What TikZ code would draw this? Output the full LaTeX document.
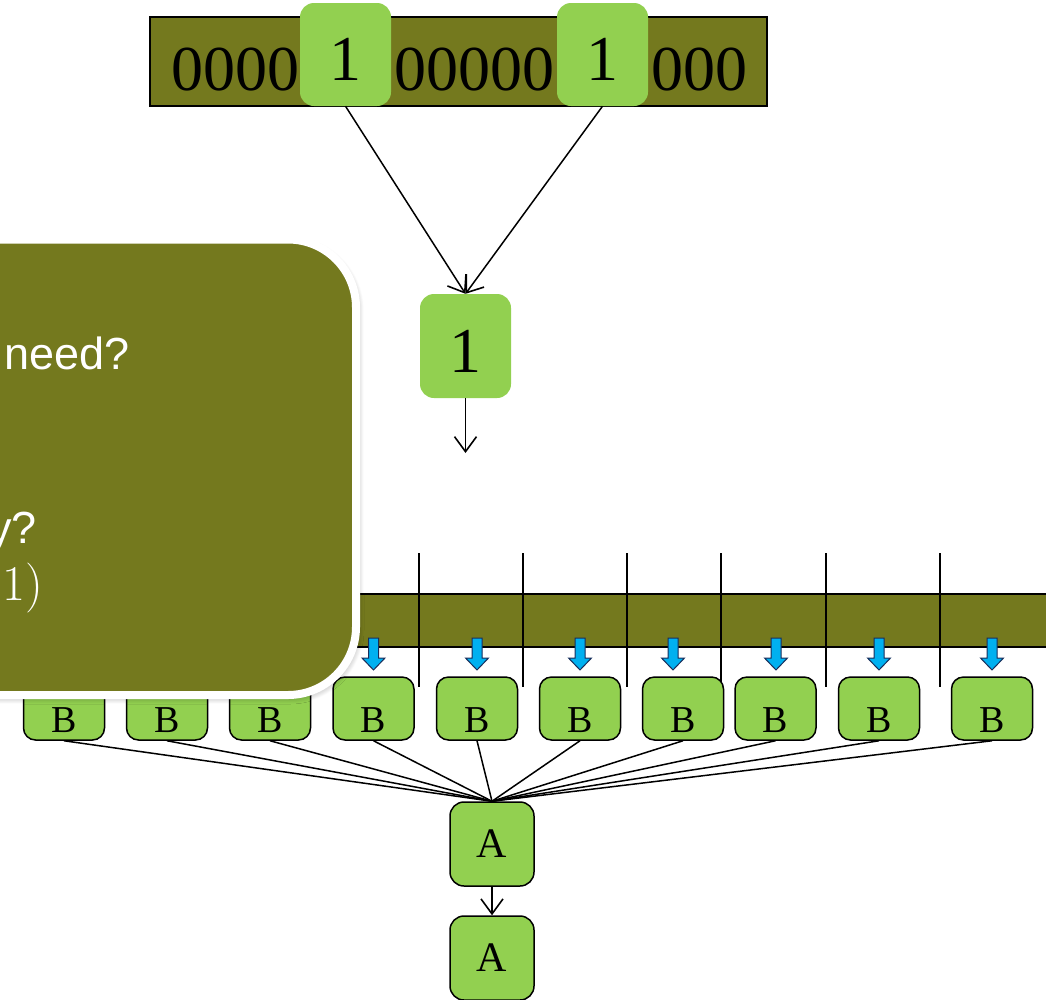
\documentclass[tikz,border=0pt]{standalone}
\usepackage{fontspec}
\newfontfamily\tnr{Liberation Serif}
\newfontfamily\arl{Liberation Sans}
\usetikzlibrary{arrows.meta,shadows.blur}
\definecolor{oliveX}{RGB}{116,121,30}
\definecolor{lgreen}{RGB}{146,208,80}
\definecolor{cyanA}{RGB}{0,176,240}
\definecolor{navyA}{RGB}{25,45,90}
\begin{document}
\begin{tikzpicture}[x=1pt,y=-1pt,
  bar/.style={fill=oliveX, draw=black, line width=1.5pt, inner sep=0pt},
  zerotext/.style={anchor=base, inner sep=0pt, font=\tnr\fontsize{64}{64}\selectfont},
  onebox/.style={fill=lgreen, rounded corners=14pt, inner xsep=0pt, inner ysep=0pt,
    minimum width=91pt, text height=77pt, text depth=26pt, font=\tnr\fontsize{64}{64}\selectfont},
  bbox/.style={fill=lgreen, draw=black, line width=1.5pt, rounded corners=12pt, inner sep=0pt,
    minimum width=81pt, text height=55pt, text depth=8pt, font=\tnr\fontsize{38}{38}\selectfont},
  abox/.style={fill=lgreen, draw=black, line width=1.5pt, rounded corners=14pt, inner sep=0pt,
    minimum width=84pt, minimum height=84pt, font=\tnr\fontsize{42}{42}\selectfont},
  conn/.style={draw=black, line width=1.5pt},
  arr/.style={conn, -{Straight Barb[length=15pt,width=22pt,line width=1.6pt]}},
  barrow/.style={fill=cyanA, draw=navyA, line width=1pt, line join=miter},
  poptext/.style={text=white, inner sep=0pt, anchor=base west}
]
\useasboundingbox (0,0) rectangle (1046,999);

% top bar with zeros
\node[bar, minimum width=617pt, minimum height=89pt] (topbar) at (458.5,61.5) {};
\node[zerotext] (z1) at (235,90) {0000};
\node[zerotext] (z2) at (474,90) {00000};
\node[zerotext] (z3) at (699,90) {000};
\node[onebox] (one1) at (345.5,54.5) {1};
\node[onebox] (one2) at (602.5,54.5) {1};
\node[onebox, text height=78pt] (mid) at (465.5,346) {1};
\coordinate (midend) at (465.5,453);
\draw[arr] (one1.south) -- (mid.north);
\draw[arr] (one2.south) -- (mid.north);
\draw[arr] (mid.south) -- (midend);

% bottom bar
\node[bar, minimum width=720pt, minimum height=53pt] (botbar) at (700,620.5) {};
\foreach \x in {419,523,627,721,826,940}
  \draw[conn] (\x,553) -- (\x,687);
\foreach \x in {373.5,477,580,673,776,879,992}
  \filldraw[barrow] (\x-5,638) -- (\x+5,638) -- (\x+5,658) -- (\x+11.5,658) -- (\x,670)
     -- (\x-11.5,658) -- (\x-5,658) -- cycle;

% B boxes
\foreach \x [count=\i] in {64,167,270,373.5,477,580,683,775.5,879,992}
  \node[bbox] (b\i) at (\x,708.5) {B};
\node[abox] (a1) at (492,844) {A};
\node[abox] (a2) at (492,958) {A};
\foreach \i in {1,...,10}
  \draw[conn] (b\i.south) -- (a1.north);
\draw[arr] (a1.south) -- (a2.north);

% popup
\path[draw=white, line width=8pt, fill=oliveX, rounded corners=68pt,
  blur shadow={shadow blur steps=10, shadow blur radius=6pt, shadow xshift=2pt,
  shadow yshift=-3pt, shadow opacity=35}]
  (-100,239.5) rectangle (356,695);
\node[poptext, font=\arl\fontsize{45}{45}\selectfont] (t1) at (4,369) {need?};
\node[poptext, font=\arl\fontsize{45}{45}\selectfont] (t2) at (-11,543) {y?};
\node[poptext, font=\fontsize{50}{50}\selectfont] (t3) at (2,600) {1)};
\end{tikzpicture}
\end{document}
